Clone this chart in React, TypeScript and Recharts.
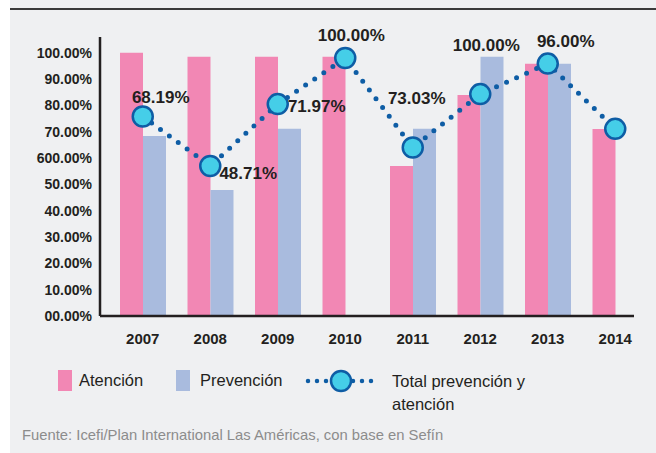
import { ComposedChart, Bar, Line, XAxis, YAxis, LabelList } from 'recharts';

const YEARS = ['2007', '2008', '2009', '2010', '2011', '2012', '2013', '2014'];
const ATENCION = [100, 98.5, 98.5, 98.5, 57, 84, 95.8, 71];
const PREVENCION = [68.4, 47.9, 71.1, null, 71.1, 98.5, 95.8, null];
const TOTAL = [75.8, 57, 80.5, 98, 64, 84.3, 95.9, 71.1];
const TOTAL_LABELS = ['68.19%', '48.71%', '71.97%', '100.00%', '73.03%', '100.00%', '96.00%', ''];
const Y_TICKS = [0, 10, 20, 30, 40, 50, 60, 70, 80, 90, 100];
const Y_TICK_LABELS = ['00.00%', '10.00%', '20.00%', '30.00%', '40.00%', '50.00%', '600.00%', '70.00%', '80.00%', '90.00%', '100.00%'];

// label placement around each dot (layout only)
const LABEL_OFFSETS = [[18, -19], [38, 8], [39, 2], [6, -23], [4, -49], [6, -49], [18, -22], [0, 0]];

const PINK = '#F287B4';
const BLUE = '#A9BBDE';
const DOT_FILL = '#45CEE8';
const DOT_STROKE = '#0E5DA5';
const TEXT = '#231F20';
const FONT = '"Liberation Sans", Arial, sans-serif';

const data = YEARS.map((year, i) => ({
  year,
  atencion: ATENCION[i],
  prevencion: PREVENCION[i],
  total: TOTAL[i],
  label: TOTAL_LABELS[i],
}));

const TotalDot = (props: any) => {
  const { cx, cy } = props;
  if (cx == null || cy == null) return null;
  return <circle cx={cx} cy={cy} r={10} fill={DOT_FILL} stroke={DOT_STROKE} strokeWidth={2.5} />;
};

const TotalLabel = (props: any) => {
  const { x, y, index, value } = props;
  if (!value) return null;
  const [dx, dy] = LABEL_OFFSETS[index];
  return (
    <text x={x + dx} y={y + dy} textAnchor="middle" dominantBaseline="central"
      fill={TEXT} fontSize={17} fontWeight="bold" fontFamily={FONT}>
      {value}
    </text>
  );
};

export default function App() {
  return (
    <div style={{ position: 'absolute', left: 0, top: 0, width: 656, height: 453, background: '#fff', fontFamily: FONT }}>
      <div style={{ position: 'absolute', left: 10, top: 0, right: 0, bottom: 0, background: '#EFF0F2' }} />
      <div style={{ position: 'absolute', left: 10, top: 8, right: 0, height: 1.5, background: '#3A3A3A' }} />

      <div style={{ position: 'absolute', left: 0, top: 0 }}>
        <ComposedChart
          width={656}
          height={360}
          data={data}
          margin={{ top: 37, right: 22, left: 0, bottom: 0 }}
          barGap={0}
          barCategoryGap={10}
        >
          <XAxis
            dataKey="year"
            height={44}
            padding={{ left: 9, right: -15 }}
            axisLine={{ stroke: TEXT, strokeWidth: 2.5 }}
            tickLine={false}
            tickMargin={11}
            tick={{ fill: TEXT, fontSize: 15, fontWeight: 'bold', fontFamily: FONT }}
          />
          <YAxis
            width={100}
            domain={[0, 106]}
            ticks={Y_TICKS}
            interval={0}
            axisLine={{ stroke: TEXT, strokeWidth: 2.5 }}
            tickLine={false}
            tickFormatter={(v: number) => Y_TICK_LABELS[Y_TICKS.indexOf(v)]}
            tick={{ fill: TEXT, fontSize: 14, fontWeight: 'bold', fontFamily: FONT }}
          />
          <Bar dataKey="atencion" fill={PINK} barSize={23} isAnimationActive={false} />
          <Bar dataKey="prevencion" fill={BLUE} barSize={23} isAnimationActive={false} />
          <Line
            type="linear"
            dataKey="total"
            stroke={DOT_STROKE}
            strokeWidth={5}
            strokeDasharray="0 11"
            strokeLinecap="round"
            dot={<TotalDot />}
            activeDot={false}
            isAnimationActive={false}
          >
            <LabelList dataKey="label" content={<TotalLabel />} />
          </Line>
        </ComposedChart>
      </div>

      {/* legend */}
      <div style={{ position: 'absolute', left: 58, top: 370, width: 14, height: 21, background: PINK }} />
      <div style={{ position: 'absolute', left: 79, top: 370, fontSize: 16.5, lineHeight: '20px', color: TEXT }}>Atención</div>
      <div style={{ position: 'absolute', left: 176, top: 370, width: 14, height: 21, background: BLUE }} />
      <div style={{ position: 'absolute', left: 200, top: 370, fontSize: 16.5, lineHeight: '20px', color: TEXT }}>Prevención</div>
      <svg style={{ position: 'absolute', left: 300, top: 368 }} width={88} height={26}>
        <line x1={8} y1={13} x2={80} y2={13} stroke={DOT_STROKE} strokeWidth={4.5}
          strokeDasharray="0 9" strokeLinecap="round" />
        <circle cx={41} cy={13} r={10} fill={DOT_FILL} stroke={DOT_STROKE} strokeWidth={2.5} />
      </svg>
      <div style={{ position: 'absolute', left: 392, top: 370, fontSize: 16.5, lineHeight: '23px', color: TEXT }}>
        Total prevención y<br />atención
      </div>

      <div style={{ position: 'absolute', left: 22, top: 425, fontSize: 14.8, lineHeight: '20px', color: '#8C8C8C' }}>
        Fuente: Icefi/Plan International Las Américas, con base en Sefín
      </div>
    </div>
  );
}
